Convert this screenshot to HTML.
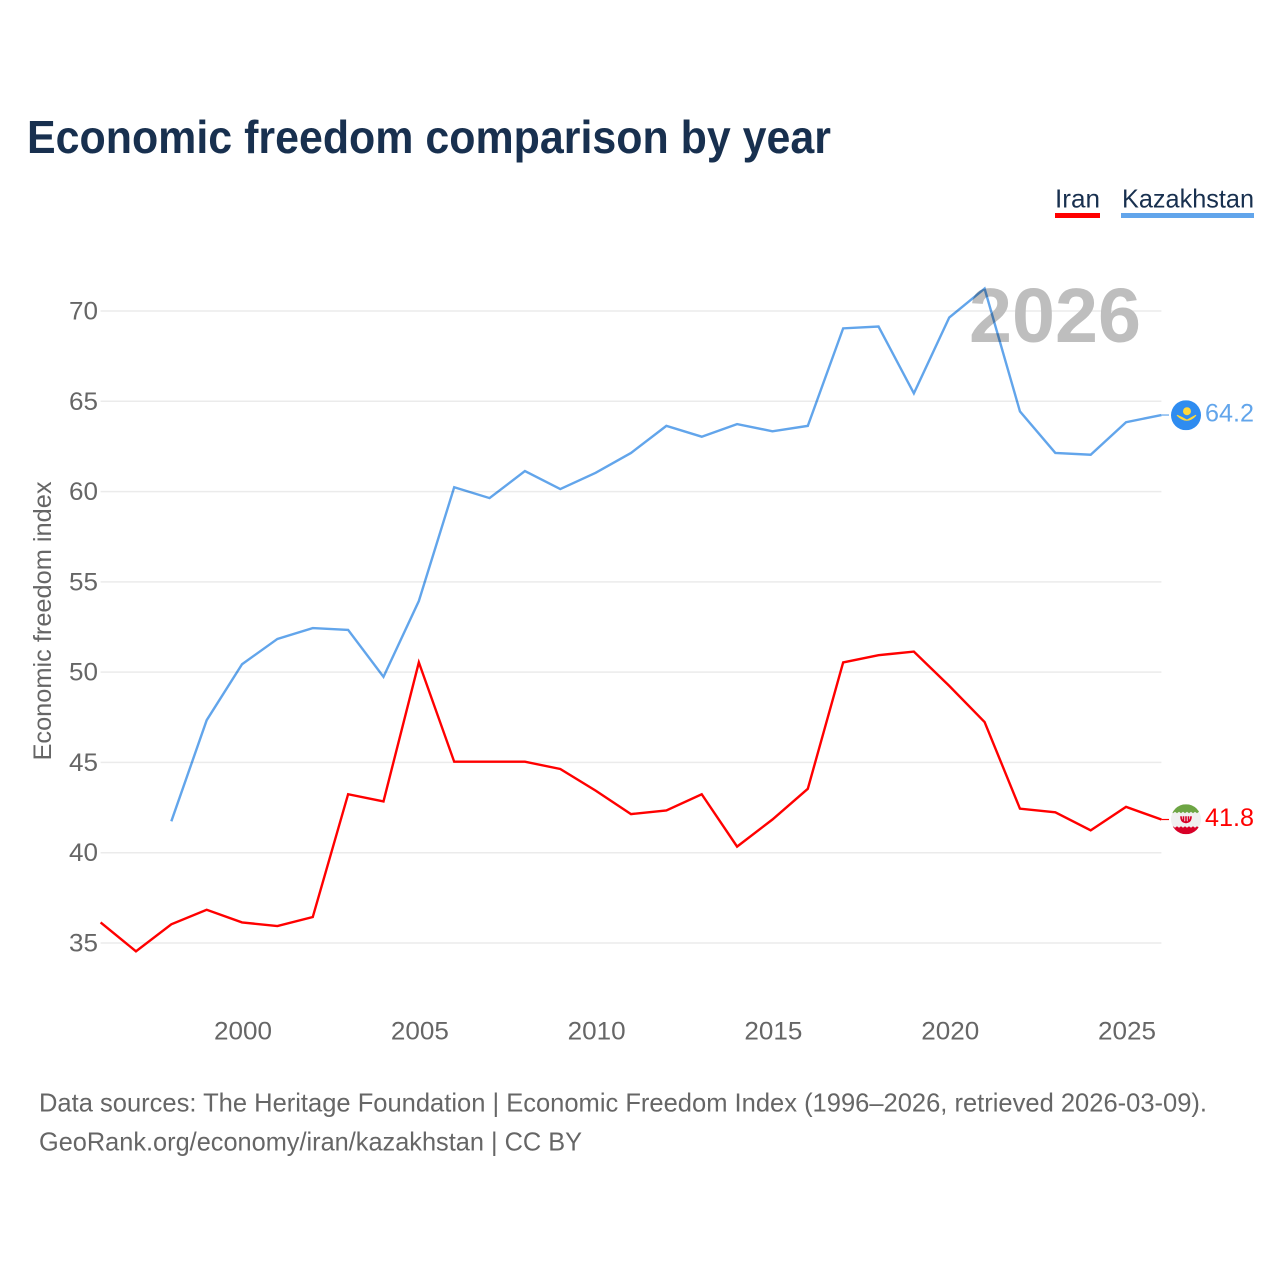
<!DOCTYPE html>
<html lang="en">
<head>
<meta charset="utf-8">
<title>Economic freedom comparison by year</title>
<style>
html,body{margin:0;padding:0;background:#fff;width:1280px;height:1280px;overflow:hidden}
svg{display:block;font-family:"Liberation Sans",sans-serif}
</style>
</head>
<body>
<svg id="chart" width="1280" height="1280" viewBox="0 0 1280 1280" xmlns="http://www.w3.org/2000/svg">
  <defs>
    <clipPath id="clip-kz"><circle cx="0" cy="0" r="15"/></clipPath>
    <clipPath id="clip-ir"><circle cx="0" cy="0" r="15"/></clipPath>
  </defs>
  <rect width="1280" height="1280" fill="#fff"/>
  <text x="27" y="153" font-size="46" font-weight="700" fill="#18304f" textLength="804" lengthAdjust="spacingAndGlyphs">Economic freedom comparison by year</text>

  <g>
    <g>
      <text x="1055" y="207.5" font-size="26" fill="#18304f" textLength="45" lengthAdjust="spacingAndGlyphs">Iran</text>
      <rect x="1055" y="213" width="45" height="5" fill="#ff0000"/>
    </g>
    <g>
      <text x="1122" y="207.5" font-size="26" fill="#18304f" textLength="132" lengthAdjust="spacingAndGlyphs">Kazakhstan</text>
      <rect x="1121" y="213" width="133" height="5" fill="#62a5eb"/>
    </g>
  </g>

  <g id="grid"></g>
  <g id="yticks"></g>
  <g id="xticks"></g>
  <text transform="translate(51 621) rotate(-90)" text-anchor="middle" font-size="25" fill="#666" textLength="279" lengthAdjust="spacingAndGlyphs">Economic freedom index</text>

  <text x="969" y="342" font-size="77" font-weight="700" fill="#bebebe" textLength="172" lengthAdjust="spacingAndGlyphs">2026</text>
  <g id="series" transform="translate(0 -0.7)"></g>

  <g id="flag-kz">
    <g clip-path="url(#clip-kz)">
      <rect x="-15" y="-15" width="30" height="30" fill="#2f8cf0"/>
      <circle cx="1" cy="-4" r="4" fill="#ffd83b"/>
      <path d="M-9 0 Q1 10 10 0 Q6 2 1 5 Q-4 2 -9 0Z" fill="#ffd83b" stroke="#ffd83b"/>
    </g>
  </g>
  <g id="flag-ir">
    <g clip-path="url(#clip-ir)">
      <rect x="-15" y="-15" width="30" height="30" fill="#f0f0f0"/>
      <path d="M-15 -15H15V-6L13 -7.5L11 -6L9 -7.5L7 -6L5 -7.5L3 -6L1 -7.5L-1 -6L-3 -7.5L-5 -6L-7 -7.5L-9 -6L-11 -7.5L-13 -6L-15 -7.5Z" fill="#6da544"/>
      <path d="M-15 15H15V7L13 8.5L11 7L9 8.5L7 7L5 8.5L3 7L1 8.5L-1 7L-3 8.5L-5 7L-7 8.5L-9 7L-11 8.5L-13 7L-15 8.5Z" fill="#d80027"/>
      <path d="M-5 -3 Q-5 3 0 3 Q5 3 5 -3 M0 -3 V4 M-2.5 -3 V2 M2.5 -3 V2" fill="none" stroke="#d80027" stroke-width="1.6"/>
    </g>
  </g>

  <g>
    <text x="39" y="1111.5" font-size="26" fill="#666" textLength="1168" lengthAdjust="spacingAndGlyphs">Data sources: The Heritage Foundation | Economic Freedom Index (1996–2026, retrieved 2026-03-09).</text>
    <text x="39" y="1150.5" font-size="26" fill="#666" textLength="543" lengthAdjust="spacingAndGlyphs">GeoRank.org/economy/iran/kazakhstan | CC BY</text>
  </g>
</svg>
<script>
const years = [1996,1997,1998,1999,2000,2001,2002,2003,2004,2005,2006,2007,2008,2009,2010,2011,2012,2013,2014,2015,2016,2017,2018,2019,2020,2021,2022,2023,2024,2025,2026];
const iranValues = [36.1,34.5,36.0,36.8,36.1,35.9,36.4,43.2,42.8,50.5,45.0,45.0,45.0,44.6,43.4,42.1,42.3,43.2,40.3,41.8,43.5,50.5,50.9,51.1,49.2,47.2,42.4,42.2,41.2,42.5,41.8];
const kazakhstanValues = [null,null,41.7,47.3,50.4,51.8,52.4,52.3,49.7,53.9,60.2,59.6,61.1,60.1,61.0,62.1,63.6,63.0,63.7,63.3,63.6,69.0,69.1,65.4,69.6,71.2,64.4,62.1,62.0,63.8,64.2];
const yTickValues = [35,40,45,50,55,60,65,70];
const xTickValues = [2000,2005,2010,2015,2020,2025];

const NS = 'http://www.w3.org/2000/svg';
const xScale = function (year) { return 100.6 + (year - 1996) * (1161.4 - 100.6) / 30; };
const yScale = function (value) { return 311 + (70 - value) * (943 - 311) / 35; };

function make(tag, attrs, parent, text) {
  const el = document.createElementNS(NS, tag);
  Object.keys(attrs).forEach(function (k) { el.setAttribute(k, attrs[k]); });
  if (text !== undefined) el.textContent = text;
  parent.appendChild(el);
  return el;
}

const gridGroup = document.getElementById('grid');
const yGroup = document.getElementById('yticks');
const xGroup = document.getElementById('xticks');
const seriesGroup = document.getElementById('series');

yTickValues.forEach(function (v) {
  const line = make('line', {x1: 100.6, x2: 1161.4, y1: yScale(v), y2: yScale(v), stroke: '#ebebeb', 'stroke-width': 1.5}, gridGroup);
  
  
  const label = make('text', {x: 98, y: yScale(v) + 8.5, 'text-anchor': 'end', 'font-size': 25, fill: '#666', textLength: 29, lengthAdjust: 'spacingAndGlyphs'}, yGroup, String(v));
  
  
});

xTickValues.forEach(function (y) {
  const label = make('text', {x: xScale(y) + 1, y: 1039.5, 'text-anchor': 'middle', 'font-size': 25, fill: '#666', textLength: 58, lengthAdjust: 'spacingAndGlyphs'}, xGroup, String(y));
  
  
});

function linePath(values) {
  let d = '';
  let started = false;
  values.forEach(function (v, i) {
    if (v === null) { started = false; return; }
    d += (started ? 'L' : 'M') + xScale(years[i]).toFixed(2) + ' ' + yScale(v).toFixed(2);
    started = true;
  });
  return d;
}

function lastValue(values) {
  return values[values.length - 1];
}

const iranLine = make('path', {d: linePath(iranValues), fill: 'none', stroke: '#ff0000', 'stroke-width': 2.4, 'stroke-linejoin': 'miter'}, seriesGroup);



const kazakhstanLine = make('path', {d: linePath(kazakhstanValues), fill: 'none', stroke: '#62a5eb', 'stroke-width': 2.4, 'stroke-linejoin': 'miter', style: 'mix-blend-mode:multiply'}, seriesGroup);



const iranConnector = make('line', {x1: 1161.4, x2: 1169, y1: yScale(lastValue(iranValues)), y2: yScale(lastValue(iranValues)), stroke: '#ff0000', 'stroke-width': 1.2}, seriesGroup);



const kazakhstanConnector = make('line', {x1: 1161.4, x2: 1169, y1: yScale(lastValue(kazakhstanValues)), y2: yScale(lastValue(kazakhstanValues)), stroke: '#62a5eb', 'stroke-width': 1.2}, seriesGroup);



const iranLabel = make('text', {x: 1205, y: yScale(lastValue(iranValues)) + 6.7, 'font-size': 25, fill: '#ff0000', textLength: 49, lengthAdjust: 'spacingAndGlyphs'}, seriesGroup, lastValue(iranValues).toFixed(1));



const kazakhstanLabel = make('text', {x: 1205, y: yScale(lastValue(kazakhstanValues)) + 6.7, 'font-size': 25, fill: '#62a5eb', textLength: 49, lengthAdjust: 'spacingAndGlyphs'}, seriesGroup, lastValue(kazakhstanValues).toFixed(1));



document.getElementById('flag-kz').setAttribute('transform', 'translate(1186 ' + (yScale(lastValue(kazakhstanValues)) - 0.5) + ')');
document.getElementById('flag-ir').setAttribute('transform', 'translate(1186 ' + (yScale(lastValue(iranValues)) - 1) + ')');
</script>
</body>
</html>
